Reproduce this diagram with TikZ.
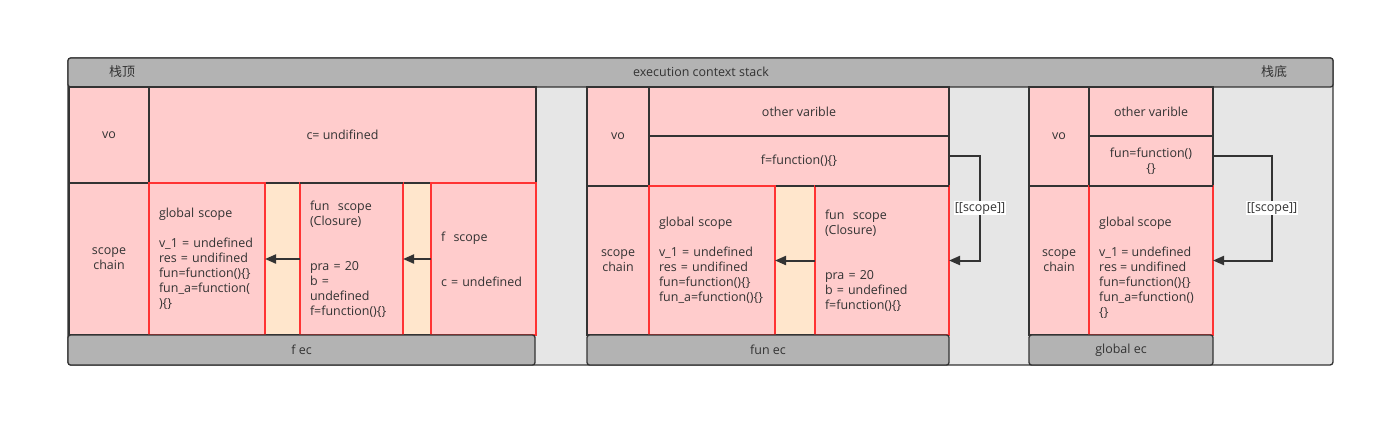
\documentclass[tikz,border=0pt]{standalone}
\usepackage{fontspec}
\setmainfont{Open Sans}
\newfontfamily\cjk{Noto Sans CJK SC}
\usetikzlibrary{arrows.meta}
\definecolor{pinkc}{HTML}{FFCCCC}
\definecolor{orangec}{HTML}{FFE6CC}
\definecolor{barc}{HTML}{B3B3B3}
\definecolor{bgc}{HTML}{E6E6E6}
\definecolor{linec}{HTML}{333333}
\definecolor{redc}{HTML}{FF3333}
\begin{document}
\begin{tikzpicture}[x=1bp,y=-1bp,
  wh/.style 2 args={minimum width=#1bp, minimum height=#2bp},
  base/.style={inner sep=0pt, outer sep=0pt, anchor=north west, text=linec,
    font=\fontsize{12.5}{15}\selectfont, line width=1.3bp},
  box/.style={base, draw=linec, fill=pinkc, align=center},
  redbox/.style={base, draw=redc, fill=pinkc, align=left, inner xsep=10bp},
  strip/.style={base, draw=linec, fill=orangec},
  bar/.style={base, draw=linec, fill=barc, rounded corners=2.5bp, align=center},
  bgbox/.style={base, draw=linec, fill=bgc, rounded corners=3bp},
  txt/.style={text=linec, font=\fontsize{12.5}{15}\selectfont, inner sep=0pt},
  darkline/.style={draw=linec, line width=1.3bp},
  arr/.style={draw=linec, line width=2bp, -{Triangle[length=11bp,width=9bp]}},
  conn/.style={draw=linec, line width=2bp, -{Triangle[length=11bp,width=9bp]}},
  tag/.style={txt, fill=white, inner sep=1bp}
]
\useasboundingbox (0,0) rectangle (1395,426);
% container and top bar
\node[bgbox, wh={1265}{307}] (cont) at (68,58) {};
\node[bar, wh={1265}{29}] (top) at (68,58) {};
\node[txt, font=\fontsize{13}{15}\selectfont] (tl) at (122,72) {\cjk 栈顶};
\node[txt] (tm) at (701,72) {execution context stack};
\node[txt, font=\fontsize{13}{15}\selectfont] (tr) at (1274,72) {\cjk 栈底};

% ---------- f ec ----------
\node[box, wh={80}{96}] (lvo) at (69,87) {vo};
\node[box, wh={387}{96}] (lval) at (149,87) {c= undifined};
\node[box, wh={80}{152}] (lsc) at (69,183) {scope\\chain};
\node[box, wh={387}{152}] (lrow) at (149,183) {};
\node[strip, wh={35}{152}] (lor1) at (265,183) {};
\node[strip, wh={28}{152}] (lor2) at (403,183) {};
\node[redbox, wh={116}{152}, text width=96bp] (lglob) at (149,183)
  {global scope\\[15bp]v\_1 = undefined\\res = undifined\\fun=function()\{\}\\fun\_a=function(\\)\{\}};
\node[redbox, wh={103}{152}, text width=83bp] (lfun) at (300,183)
  {fun\ \ scope\\(Closure)\\[30bp]pra = 20\\b =\\undefined\\f=function()\{\}};
\node[redbox, wh={105}{152}, text width=85bp] (lf) at (431,183)
  {f\ \ scope\\[30bp]c = undefined};
\draw[darkline] (lfun.north west) -- (lfun.north east);
\node[bar, wh={467}{30}] (lbar) at (68,335) {f ec};
\draw[arr] (lfun.west) -- (lglob.east);
\draw[arr] (lf.west) -- (lfun.east);

% ---------- fun ec ----------
\node[box, wh={62}{99}] (mvo) at (587,87) {vo};
\node[box, wh={300}{49}] (mother) at (649,87) {other varible};
\node[box, wh={300}{50}] (mf) at (649,136) {f=function()\{\}};
\node[box, wh={62}{149}] (msc) at (587,186) {scope\\chain};
\node[strip, wh={40}{149}] (mor) at (775,186) {};
\node[redbox, wh={126}{149}, text width=106bp] (mglob) at (649,186)
  {global scope\\[15bp]v\_1 = undefined\\res = undifined\\fun=function()\{\}\\fun\_a=function()\{\}};
\node[redbox, wh={134}{149}, text width=114bp] (mfun) at (815,186)
  {fun\ \ scope\\(Closure)\\[30bp]pra = 20\\b = undefined\\f=function()\{\}};
\draw[darkline] (mfun.north west) -- (mfun.north east);
\node[bar, wh={362}{30}] (mbar) at (587,335) {fun ec};
\draw[arr] (mfun.west) -- (mglob.east);
\draw[conn] ([yshift=5bp]mf.east) -- ++(31,0) |- node[pos=0.25, tag] (mtag) {[[scope]]} (mfun.east);

% ---------- global ec ----------
\node[box, wh={60}{99}] (rvo) at (1029,87) {vo};
\node[box, wh={124}{49}] (rother) at (1089,87) {other varible};
\node[box, wh={124}{50}] (rf) at (1089,136) {fun=function()\\\{\}};
\node[box, wh={60}{149}] (rsc) at (1029,186) {scope\\chain};
\node[redbox, wh={124}{149}] (rglob) at (1089,186) {};
\node[txt, anchor=west, align=left] (rglobtxt) at (1099,268)
  {global scope\\[15bp]v\_1 = undefined\\res = undifined\\fun=function()\{\}\\fun\_a=function()\\\{\}};
\draw[darkline] (rglob.north west) -- (rglob.north east);
\node[bar, wh={184}{30}] (rbar) at (1029,335) {global ec};
\draw[conn] ([yshift=5bp]rf.east) -- ++(59,0) |- node[pos=0.25, tag] (rtag) {[[scope]]} (rglob.east);
\end{tikzpicture}
\end{document}
